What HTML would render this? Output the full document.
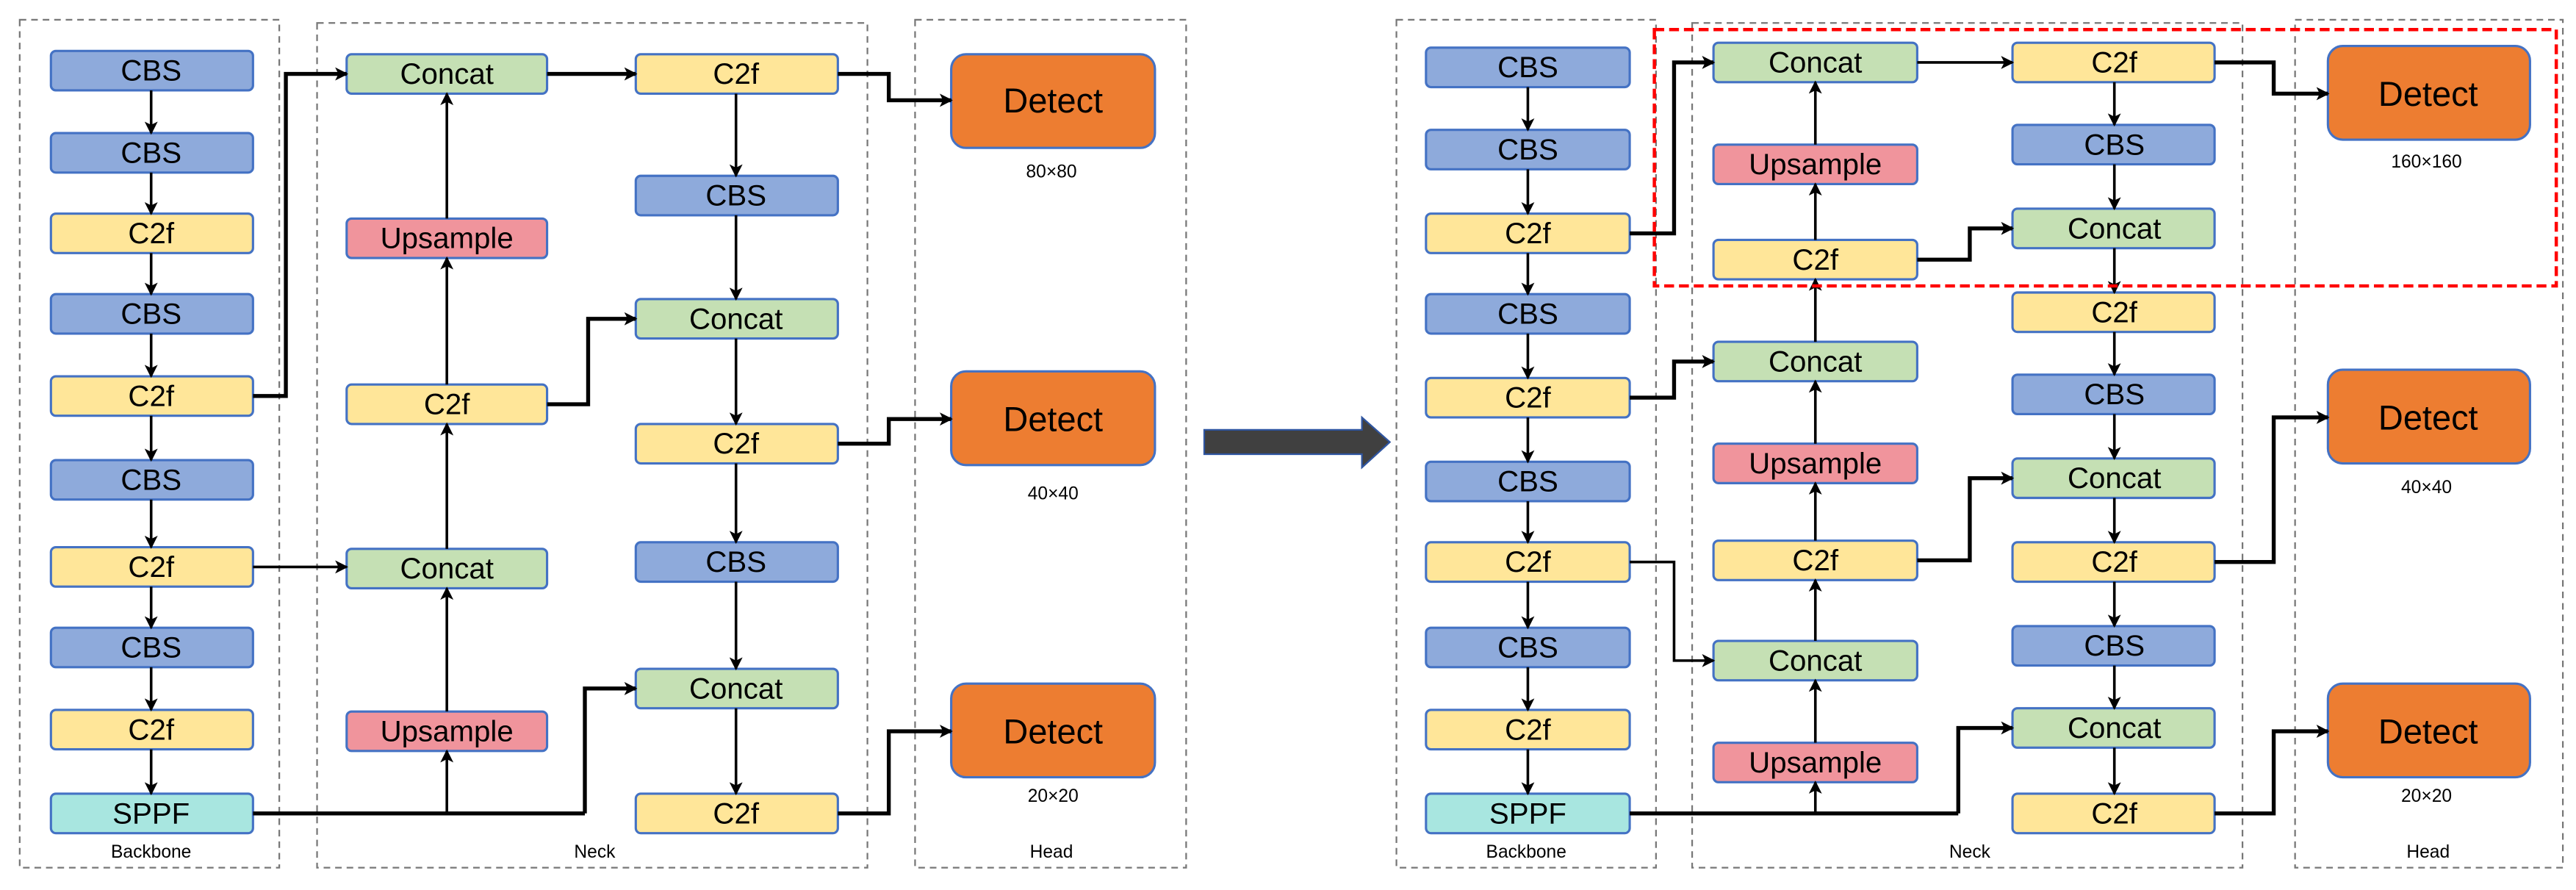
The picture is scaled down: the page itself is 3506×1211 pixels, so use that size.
<!DOCTYPE html>
<html><head><meta charset="utf-8"><style>
html,body{margin:0;padding:0;background:#fff;}
svg{display:block;}
text{font-family:"Liberation Sans",Arial,sans-serif;}
</style></head><body>
<svg width="3506" height="1211" viewBox="0 0 1568 541.6" xmlns="http://www.w3.org/2000/svg">
<defs>
<marker id="ah" markerWidth="8" markerHeight="8" refX="7" refY="4" orient="auto" markerUnits="userSpaceOnUse">
<path d="M0,0 L8,4 L0,8 L2,4 Z" fill="#000"/>
</marker>
<style>
.b{fill:#8eaadb;stroke:#4472c4;stroke-width:1.4}
.y{fill:#ffe699;stroke:#4472c4;stroke-width:1.4}
.g{fill:#c5e0b4;stroke:#4472c4;stroke-width:1.4}
.p{fill:#f0949c;stroke:#4472c4;stroke-width:1.4}
.c{fill:#a8e6e0;stroke:#4472c4;stroke-width:1.4}
.o{fill:#ed7d31;stroke:#4472c4;stroke-width:1.4}
.t{font-size:18px;text-anchor:middle;dominant-baseline:central;fill:#000}
.td{font-size:21px;text-anchor:middle;dominant-baseline:central;fill:#000}
.s{font-size:11px;text-anchor:middle;fill:#000}
.dash{fill:none;stroke:#777;stroke-width:1;stroke-dasharray:4,3}
.l{fill:none;stroke:#000;stroke-width:1.6}
.lt{fill:none;stroke:#000;stroke-width:2.4}
</style>
</defs>

<!-- LEFT DIAGRAM -->
<rect class="dash" x="12" y="12" width="158" height="516"/>
<rect class="dash" x="193" y="14" width="335" height="514"/>
<rect class="dash" x="557" y="12" width="165" height="516"/>
<text class="s" x="92" y="522">Backbone</text>
<text class="s" x="362" y="522">Neck</text>
<text class="s" x="640" y="522">Head</text>

<g>
<rect class="b" x="31" y="31" width="123" height="24" rx="3"/><text class="t" x="92" y="43">CBS</text>
<rect class="b" x="31" y="81" width="123" height="24" rx="3"/><text class="t" x="92" y="93">CBS</text>
<rect class="y" x="31" y="130" width="123" height="24" rx="3"/><text class="t" x="92" y="142">C2f</text>
<rect class="b" x="31" y="179" width="123" height="24" rx="3"/><text class="t" x="92" y="191">CBS</text>
<rect class="y" x="31" y="229" width="123" height="24" rx="3"/><text class="t" x="92" y="241">C2f</text>
<rect class="b" x="31" y="280" width="123" height="24" rx="3"/><text class="t" x="92" y="292">CBS</text>
<rect class="y" x="31" y="333" width="123" height="24" rx="3"/><text class="t" x="92" y="345">C2f</text>
<rect class="b" x="31" y="382" width="123" height="24" rx="3"/><text class="t" x="92" y="394">CBS</text>
<rect class="y" x="31" y="432" width="123" height="24" rx="3"/><text class="t" x="92" y="444">C2f</text>
<rect class="c" x="31" y="483" width="123" height="24" rx="3"/><text class="t" x="92" y="495">SPPF</text>
</g>
<path class="l" marker-end="url(#ah)" d="M92,55 V81"/>
<path class="l" marker-end="url(#ah)" d="M92,105 V130"/>
<path class="l" marker-end="url(#ah)" d="M92,154 V179"/>
<path class="l" marker-end="url(#ah)" d="M92,203 V229"/>
<path class="l" marker-end="url(#ah)" d="M92,253 V280"/>
<path class="l" marker-end="url(#ah)" d="M92,304 V333"/>
<path class="l" marker-end="url(#ah)" d="M92,357 V382"/>
<path class="l" marker-end="url(#ah)" d="M92,406 V432"/>
<path class="l" marker-end="url(#ah)" d="M92,456 V483"/>

<rect class="g" x="211" y="33" width="122" height="24" rx="3"/><text class="t" x="272" y="45">Concat</text>
<rect class="p" x="211" y="133" width="122" height="24" rx="3"/><text class="t" x="272" y="145">Upsample</text>
<rect class="y" x="211" y="234" width="122" height="24" rx="3"/><text class="t" x="272" y="246">C2f</text>
<rect class="g" x="211" y="334" width="122" height="24" rx="3"/><text class="t" x="272" y="346">Concat</text>
<rect class="p" x="211" y="433" width="122" height="24" rx="3"/><text class="t" x="272" y="445">Upsample</text>
<rect class="y" x="387" y="33" width="123" height="24" rx="3"/><text class="t" x="448" y="45">C2f</text>
<rect class="b" x="387" y="107" width="123" height="24" rx="3"/><text class="t" x="448" y="119">CBS</text>
<rect class="g" x="387" y="182" width="123" height="24" rx="3"/><text class="t" x="448" y="194">Concat</text>
<rect class="y" x="387" y="258" width="123" height="24" rx="3"/><text class="t" x="448" y="270">C2f</text>
<rect class="b" x="387" y="330" width="123" height="24" rx="3"/><text class="t" x="448" y="342">CBS</text>
<rect class="g" x="387" y="407" width="123" height="24" rx="3"/><text class="t" x="448" y="419">Concat</text>
<rect class="y" x="387" y="483" width="123" height="24" rx="3"/><text class="t" x="448" y="495">C2f</text>
<rect class="o" x="579" y="33" width="124" height="57" rx="9"/><text class="td" x="641" y="61">Detect</text>
<rect class="o" x="579" y="226" width="124" height="57" rx="9"/><text class="td" x="641" y="255">Detect</text>
<rect class="o" x="579" y="416" width="124" height="57" rx="9"/><text class="td" x="641" y="445">Detect</text>
<text class="s" x="640" y="108">80×80</text>
<text class="s" x="641" y="304">40×40</text>
<text class="s" x="641" y="488">20×20</text>

<path class="lt" marker-end="url(#ah)" d="M154,241 H174 V45 H211"/>
<path class="l" marker-end="url(#ah)" d="M154,345 H211"/>
<path class="lt" d="M154,495 H356"/>
<path class="lt" marker-end="url(#ah)" d="M356,495 V419 H387"/>
<path class="l" marker-end="url(#ah)" d="M272,495 V457"/>
<path class="l" marker-end="url(#ah)" d="M272,433 V358"/>
<path class="l" marker-end="url(#ah)" d="M272,334 V258"/>
<path class="l" marker-end="url(#ah)" d="M272,234 V157"/>
<path class="l" marker-end="url(#ah)" d="M272,133 V57"/>
<path class="lt" marker-end="url(#ah)" d="M333,45 H387"/>
<path class="lt" marker-end="url(#ah)" d="M333,246 H358 V194 H387"/>
<path class="l" marker-end="url(#ah)" d="M448,57 V107"/>
<path class="l" marker-end="url(#ah)" d="M448,131 V182"/>
<path class="l" marker-end="url(#ah)" d="M448,206 V258"/>
<path class="l" marker-end="url(#ah)" d="M448,282 V330"/>
<path class="l" marker-end="url(#ah)" d="M448,354 V407"/>
<path class="l" marker-end="url(#ah)" d="M448,431 V483"/>
<path class="lt" marker-end="url(#ah)" d="M510,45 H541 V61 H579"/>
<path class="lt" marker-end="url(#ah)" d="M510,270 H541 V255 H579"/>
<path class="lt" marker-end="url(#ah)" d="M510,495 H541 V445 H579"/>

<path d="M733,261.6 H829 V254 L846,269 L829,284.5 V276.4 H733 Z" fill="#404040" stroke="#2f55a0" stroke-width="1"/>

<!-- RIGHT DIAGRAM -->
<rect class="dash" x="850" y="12" width="158" height="516"/>
<rect class="dash" x="1030" y="14" width="335" height="514"/>
<rect class="dash" x="1397" y="12" width="163" height="516"/>
<text class="s" x="929" y="522">Backbone</text>
<text class="s" x="1199" y="522">Neck</text>
<text class="s" x="1478" y="522">Head</text>

<rect class="b" x="868" y="29" width="124" height="24" rx="3"/><text class="t" x="930" y="41">CBS</text>
<rect class="b" x="868" y="79" width="124" height="24" rx="3"/><text class="t" x="930" y="91">CBS</text>
<rect class="y" x="868" y="130" width="124" height="24" rx="3"/><text class="t" x="930" y="142">C2f</text>
<rect class="b" x="868" y="179" width="124" height="24" rx="3"/><text class="t" x="930" y="191">CBS</text>
<rect class="y" x="868" y="230" width="124" height="24" rx="3"/><text class="t" x="930" y="242">C2f</text>
<rect class="b" x="868" y="281" width="124" height="24" rx="3"/><text class="t" x="930" y="293">CBS</text>
<rect class="y" x="868" y="330" width="124" height="24" rx="3"/><text class="t" x="930" y="342">C2f</text>
<rect class="b" x="868" y="382" width="124" height="24" rx="3"/><text class="t" x="930" y="394">CBS</text>
<rect class="y" x="868" y="432" width="124" height="24" rx="3"/><text class="t" x="930" y="444">C2f</text>
<rect class="c" x="868" y="483" width="124" height="24" rx="3"/><text class="t" x="930" y="495">SPPF</text>
<path class="l" marker-end="url(#ah)" d="M930,53 V79"/>
<path class="l" marker-end="url(#ah)" d="M930,103 V130"/>
<path class="l" marker-end="url(#ah)" d="M930,154 V179"/>
<path class="l" marker-end="url(#ah)" d="M930,203 V230"/>
<path class="l" marker-end="url(#ah)" d="M930,254 V281"/>
<path class="l" marker-end="url(#ah)" d="M930,305 V330"/>
<path class="l" marker-end="url(#ah)" d="M930,354 V382"/>
<path class="l" marker-end="url(#ah)" d="M930,406 V432"/>
<path class="l" marker-end="url(#ah)" d="M930,456 V483"/>

<rect class="g" x="1043" y="26" width="124" height="24" rx="3"/><text class="t" x="1105" y="38">Concat</text>
<rect class="p" x="1043" y="88" width="124" height="24" rx="3"/><text class="t" x="1105" y="100">Upsample</text>
<rect class="y" x="1043" y="146" width="124" height="24" rx="3"/><text class="t" x="1105" y="158">C2f</text>
<rect class="g" x="1043" y="208" width="124" height="24" rx="3"/><text class="t" x="1105" y="220">Concat</text>
<rect class="p" x="1043" y="270" width="124" height="24" rx="3"/><text class="t" x="1105" y="282">Upsample</text>
<rect class="y" x="1043" y="329" width="124" height="24" rx="3"/><text class="t" x="1105" y="341">C2f</text>
<rect class="g" x="1043" y="390" width="124" height="24" rx="3"/><text class="t" x="1105" y="402">Concat</text>
<rect class="p" x="1043" y="452" width="124" height="24" rx="3"/><text class="t" x="1105" y="464">Upsample</text>
<rect class="y" x="1225" y="26" width="123" height="24" rx="3"/><text class="t" x="1287" y="38">C2f</text>
<rect class="b" x="1225" y="76" width="123" height="24" rx="3"/><text class="t" x="1287" y="88">CBS</text>
<rect class="g" x="1225" y="127" width="123" height="24" rx="3"/><text class="t" x="1287" y="139">Concat</text>
<rect class="y" x="1225" y="178" width="123" height="24" rx="3"/><text class="t" x="1287" y="190">C2f</text>
<rect class="b" x="1225" y="228" width="123" height="24" rx="3"/><text class="t" x="1287" y="240">CBS</text>
<rect class="g" x="1225" y="279" width="123" height="24" rx="3"/><text class="t" x="1287" y="291">Concat</text>
<rect class="y" x="1225" y="330" width="123" height="24" rx="3"/><text class="t" x="1287" y="342">C2f</text>
<rect class="b" x="1225" y="381" width="123" height="24" rx="3"/><text class="t" x="1287" y="393">CBS</text>
<rect class="g" x="1225" y="431" width="123" height="24" rx="3"/><text class="t" x="1287" y="443">Concat</text>
<rect class="y" x="1225" y="483" width="123" height="24" rx="3"/><text class="t" x="1287" y="495">C2f</text>
<rect class="o" x="1417" y="28" width="123" height="57" rx="9"/><text class="td" x="1478" y="57">Detect</text>
<rect class="o" x="1417" y="225" width="123" height="57" rx="9"/><text class="td" x="1478" y="254">Detect</text>
<rect class="o" x="1417" y="416" width="123" height="57" rx="9"/><text class="td" x="1478" y="445">Detect</text>
<text class="s" x="1477" y="102">160×160</text>
<text class="s" x="1477" y="300">40×40</text>
<text class="s" x="1477" y="488">20×20</text>

<path class="lt" marker-end="url(#ah)" d="M992,142 H1019 V38 H1043"/>
<path class="lt" marker-end="url(#ah)" d="M992,242 H1019 V220 H1043"/>
<path class="l" marker-end="url(#ah)" d="M992,342 H1019 V402 H1043"/>
<path class="lt" d="M992,495 H1192"/>
<path class="lt" marker-end="url(#ah)" d="M1192,495 V443 H1225"/>
<path class="l" marker-end="url(#ah)" d="M1105,495 V476"/>
<path class="l" marker-end="url(#ah)" d="M1105,452 V414"/>
<path class="l" marker-end="url(#ah)" d="M1105,390 V353"/>
<path class="l" marker-end="url(#ah)" d="M1105,329 V294"/>
<path class="l" marker-end="url(#ah)" d="M1105,270 V232"/>
<path class="l" marker-end="url(#ah)" d="M1105,208 V170"/>
<path class="l" marker-end="url(#ah)" d="M1105,146 V112"/>
<path class="l" marker-end="url(#ah)" d="M1105,88 V50"/>
<path class="l" marker-end="url(#ah)" d="M1167,38 H1225"/>
<path class="lt" marker-end="url(#ah)" d="M1167,158 H1199 V139 H1225"/>
<path class="lt" marker-end="url(#ah)" d="M1167,341 H1199 V291 H1225"/>
<path class="l" marker-end="url(#ah)" d="M1287,50 V76"/>
<path class="l" marker-end="url(#ah)" d="M1287,100 V127"/>
<path class="l" marker-end="url(#ah)" d="M1287,151 V178"/>
<path class="l" marker-end="url(#ah)" d="M1287,202 V228"/>
<path class="l" marker-end="url(#ah)" d="M1287,252 V279"/>
<path class="l" marker-end="url(#ah)" d="M1287,303 V330"/>
<path class="l" marker-end="url(#ah)" d="M1287,354 V381"/>
<path class="l" marker-end="url(#ah)" d="M1287,405 V431"/>
<path class="l" marker-end="url(#ah)" d="M1287,455 V483"/>
<path class="lt" marker-end="url(#ah)" d="M1348,38 H1384 V57 H1417"/>
<path class="lt" marker-end="url(#ah)" d="M1348,342 H1384 V254 H1417"/>
<path class="lt" marker-end="url(#ah)" d="M1348,495 H1384 V445 H1417"/>

<rect x="1007" y="18" width="549" height="156" fill="none" stroke="#ff0000" stroke-width="2" stroke-dasharray="6,3"/>
</svg>
</body></html>
